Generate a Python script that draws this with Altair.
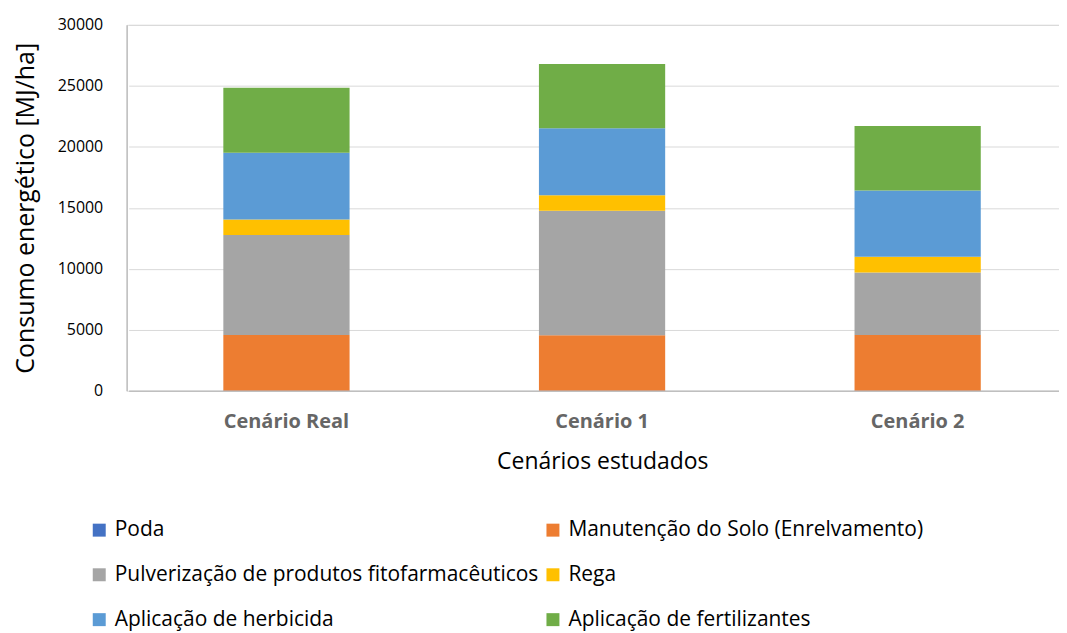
import altair as alt
import pandas as pd

scenarios = ["Cenário Real", "Cenário 1", "Cenário 2"]
series = [
    "Poda",
    "Manutenção do Solo (Enrelvamento)",
    "Pulverização de produtos fitofarmacêuticos",
    "Rega",
    "Aplicação de herbicida",
    "Aplicação de fertilizantes",
]
colors = ["#4472C4", "#ED7D31", "#A5A5A5", "#FFC000", "#5B9BD5", "#70AD47"]

poda = [30, 30, 30]
manutencao = [4550, 4520, 4550]
pulverizacao = [8195, 10210, 5120]
rega = [1275, 1280, 1280]
herbicida = [5470, 5480, 5450]
fertilizantes = [5320, 5280, 5280]

values = [poda, manutencao, pulverizacao, rega, herbicida, fertilizantes]

rows = []
for si, (name, vals) in enumerate(zip(series, values)):
    for sc, v in zip(scenarios, vals):
        rows.append({"Cenário": sc, "Série": name, "Valor": v, "ordem": si})
df = pd.DataFrame(rows)

# legend fills column by column: arrange so rows read like the original
legend_order = [0, 2, 4, 1, 3, 5]
legend_domain = [series[i] for i in legend_order]
legend_range = [colors[i] for i in legend_order]

FONT = "Open Sans"

chart = (
    alt.Chart(df)
    .mark_bar()
    .encode(
        x=alt.X(
            "Cenário:N",
            sort=scenarios,
            scale=alt.Scale(paddingInner=0.6, paddingOuter=0.3, range=[2, 951.5]),
            axis=alt.Axis(
                title="Cenários estudados",
                labelAngle=0,
                labelFont=FONT,
                labelFontSize=20,
                labelFontWeight="bold",
                labelColor="#666666",
                labelPadding=21,
                titleFont=FONT,
                titleFontSize=23,
                titleFontWeight="normal",
                titleColor="#000000",
                titlePadding=19,
                titleX=477,
                ticks=False,
                domainColor="#BFBFBF",
                domainWidth=1.5,
            ),
        ),
        y=alt.Y(
            "Valor:Q",
            stack="zero",
            scale=alt.Scale(domain=[0, 30000]),
            axis=alt.Axis(
                title="Consumo energético [MJ/ha]",
                values=[0, 5000, 10000, 15000, 20000, 25000, 30000],
                format="d",
                labelFont=FONT,
                labelFontSize=16,
                labelColor="#000000",
                labelPadding=24,
                titleFont=FONT,
                titleFontSize=25,
                titleFontWeight="normal",
                titleColor="#000000",
                titlePadding=19,
                ticks=False,
                domainColor="#BFBFBF",
                domainWidth=1.5,
                gridColor="#D9D9D9",
                gridWidth=1,
            ),
        ),
        color=alt.Color(
            "Série:N",
            scale=alt.Scale(domain=legend_domain, range=legend_range),
            legend=alt.Legend(
                title=None,
                orient="none",
                legendX=-38,
                legendY=496,
                columns=2,
                columnPadding=4,
                rowPadding=23,
                symbolType="square",
                symbolSize=169,
                symbolStrokeWidth=0,
                labelOffset=5,
                labelFont=FONT,
                labelFontSize=21,
                labelColor="#000000",
                labelLimit=700,
            ),
        ),
        order=alt.Order("ordem:Q", sort="ascending"),
    )
    .properties(
        width=935,
        height=367,
        padding={"left": 119, "top": 16, "right": 0, "bottom": 242},
        autosize=alt.AutoSizeParams(type="none"),
    )
    .configure_view(stroke=None)
    .configure(background="white")
)

chart.save("out.html", embed_options={"renderer": "svg", "actions": False})
